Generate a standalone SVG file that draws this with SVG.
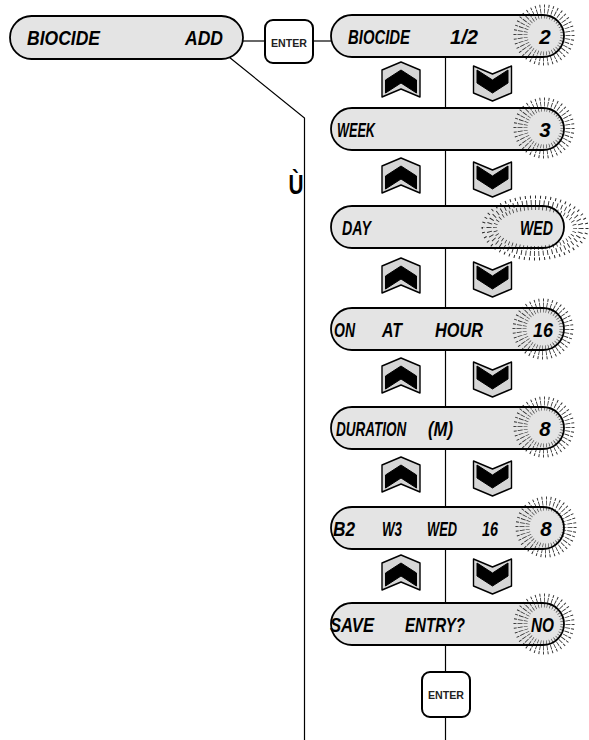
<svg xmlns="http://www.w3.org/2000/svg" width="589" height="740" viewBox="0 0 589 740">
<style>
.pill{fill:#e4e4e4;stroke:none}
.pillo{fill:none;stroke:#000;stroke-width:1.8}
.lcd{font-family:"Liberation Sans",Arial,sans-serif;font-weight:bold;font-style:italic;font-size:20.5px;fill:#000}
.btn{fill:#fff;stroke:#000;stroke-width:2}
.btxt{font-family:"Liberation Sans",Arial,sans-serif;font-weight:bold;font-size:11.5px;fill:#222}
.ln{stroke:#000;stroke-width:1.2;fill:none}
.rg{fill:none;stroke:#2a2a2a;stroke-dasharray:0.5 2}
.cho{fill:#d6d6d6;stroke:#000;stroke-width:1.4;stroke-linejoin:round}
.chi{fill:#000;stroke:#000;stroke-width:1;stroke-linejoin:round}
</style>
<defs>
<g id="up">
<polygon class="cho" points="-19,-10 0,-18 19,-10 19,17 0,9 -19,17"/>
<polygon class="chi" points="-15.5,0 0,-10 15.5,0 15.5,13 0,3 -15.5,13"/>
</g>
<g id="down">
<polygon class="cho" points="-19,-17 0,-9 19,-17 19,10 0,18 -19,10"/>
<polygon class="chi" points="-15.5,-13 0,-3 15.5,-13 15.5,0 0,10 -15.5,0"/>
</g>
<g id="ring">
<circle class="rg" r="18.5" stroke-width="4" pathLength="100"/>
<circle class="rg" r="24" stroke-width="5" pathLength="100"/>
<circle class="rg" r="29" stroke-width="3" pathLength="100"/>
</g>
</defs>

<g id="connectors">
<line class="ln" x1="243" y1="41" x2="265" y2="41"/>
<line class="ln" x1="313" y1="41" x2="332" y2="41"/>
<polyline class="ln" points="229,57 304.5,118 304.5,740"/>
<line class="ln" x1="445.5" y1="57" x2="445.5" y2="108"/>
<line class="ln" x1="445.5" y1="150" x2="445.5" y2="206"/>
<line class="ln" x1="445.5" y1="248" x2="445.5" y2="308"/>
<line class="ln" x1="445.5" y1="350" x2="445.5" y2="407"/>
<line class="ln" x1="445.5" y1="449" x2="445.5" y2="507"/>
<line class="ln" x1="445.5" y1="549" x2="445.5" y2="603"/>
<line class="ln" x1="445.5" y1="645" x2="445.5" y2="672"/>
<line class="ln" x1="445.5" y1="717" x2="445.5" y2="740"/>
</g>

<g id="biocide-add">
<rect class="pill" x="10" y="16" width="233" height="43" rx="21.5"/>
<rect class="pillo" x="10" y="16" width="233" height="43" rx="21.5"/>
<text class="lcd" x="27" y="45" textLength="73" lengthAdjust="spacingAndGlyphs">BIOCIDE</text>
<text class="lcd" x="185" y="45" textLength="38" lengthAdjust="spacingAndGlyphs">ADD</text>
</g>

<g id="enter1">
<rect class="btn" x="265" y="20" width="48" height="43" rx="8"/>
<text class="btxt" x="289" y="47" text-anchor="middle" textLength="36" lengthAdjust="spacingAndGlyphs">ENTER</text>
</g>

<g id="mark">
<text x="296" y="194" text-anchor="middle" font-family="Liberation Sans, Arial, sans-serif" font-weight="bold" font-size="28" textLength="15" lengthAdjust="spacingAndGlyphs">Ù</text>
</g>

<g id="row1">
<rect class="pill" x="331" y="15" width="233" height="42" rx="21"/>
<use href="#ring" x="544" y="35"/>
<rect class="pillo" x="331" y="15" width="233" height="42" rx="21"/>
<text class="lcd" x="348" y="44" textLength="62" lengthAdjust="spacingAndGlyphs">BIOCIDE</text>
<text class="lcd" x="450" y="44" textLength="28" lengthAdjust="spacingAndGlyphs">1/2</text>
<text class="lcd" x="545" y="44" text-anchor="middle">2</text>
</g>

<g id="arrows1"><use href="#up" x="401" y="80"/><use href="#down" x="492.5" y="83"/></g>

<g id="row2">
<rect class="pill" x="331" y="108" width="233" height="42" rx="21"/>
<use href="#ring" x="544" y="128"/>
<rect class="pillo" x="331" y="108" width="233" height="42" rx="21"/>
<text class="lcd" x="337" y="137" textLength="38" lengthAdjust="spacingAndGlyphs">WEEK</text>
<text class="lcd" x="545" y="137" text-anchor="middle">3</text>
</g>

<g id="arrows2"><use href="#up" x="401" y="176"/><use href="#down" x="492.5" y="179"/></g>

<g id="row3">
<rect class="pill" x="331" y="206" width="233" height="42" rx="21"/>
<g>
<ellipse class="rg" cx="535" cy="228" rx="40" ry="20" stroke-width="4" pathLength="130"/>
<ellipse class="rg" cx="535" cy="228" rx="46" ry="25.5" stroke-width="5" pathLength="130"/>
<ellipse class="rg" cx="535" cy="228" rx="52" ry="31" stroke-width="3" pathLength="130"/>
</g>
<rect class="pillo" x="331" y="206" width="233" height="42" rx="21"/>
<text class="lcd" x="342" y="235" textLength="29" lengthAdjust="spacingAndGlyphs">DAY</text>
<text class="lcd" x="520" y="235" textLength="33" lengthAdjust="spacingAndGlyphs">WED</text>
</g>

<g id="arrows3"><use href="#up" x="401" y="276"/><use href="#down" x="492.5" y="279"/></g>

<g id="row4">
<rect class="pill" x="331" y="308" width="233" height="42" rx="21"/>
<use href="#ring" x="543" y="329"/>
<rect class="pillo" x="331" y="308" width="233" height="42" rx="21"/>
<text class="lcd" x="334" y="337" textLength="21" lengthAdjust="spacingAndGlyphs">ON</text>
<text class="lcd" x="382" y="337" textLength="20" lengthAdjust="spacingAndGlyphs">AT</text>
<text class="lcd" x="435" y="337" textLength="48" lengthAdjust="spacingAndGlyphs">HOUR</text>
<text class="lcd" x="533" y="337" textLength="20" lengthAdjust="spacingAndGlyphs">16</text>
</g>

<g id="arrows4"><use href="#up" x="401" y="376"/><use href="#down" x="492.5" y="379"/></g>

<g id="row5">
<rect class="pill" x="331" y="407" width="233" height="42" rx="21"/>
<use href="#ring" x="544" y="427"/>
<rect class="pillo" x="331" y="407" width="233" height="42" rx="21"/>
<text class="lcd" transform="translate(336,436) scale(0.66,1)">DURATION</text>
<text class="lcd" x="428" y="436" textLength="25" lengthAdjust="spacingAndGlyphs">(M)</text>
<text class="lcd" x="545" y="436" text-anchor="middle">8</text>
</g>

<g id="arrows5"><use href="#up" x="401" y="475"/><use href="#down" x="492.5" y="478"/></g>

<g id="row6">
<rect class="pill" x="331" y="507" width="233" height="42" rx="21"/>
<use href="#ring" x="546" y="527"/>
<rect class="pillo" x="331" y="507" width="233" height="42" rx="21"/>
<text class="lcd" x="333" y="536" textLength="22" lengthAdjust="spacingAndGlyphs">B2</text>
<text class="lcd" x="382" y="536" textLength="20" lengthAdjust="spacingAndGlyphs">W3</text>
<text class="lcd" x="427" y="536" textLength="30" lengthAdjust="spacingAndGlyphs">WED</text>
<text class="lcd" x="482" y="536" textLength="16" lengthAdjust="spacingAndGlyphs">16</text>
<text class="lcd" x="546" y="536" text-anchor="middle">8</text>
</g>

<g id="arrows6"><use href="#up" x="401" y="573"/><use href="#down" x="492.5" y="576"/></g>

<g id="row7">
<rect class="pill" x="331" y="603" width="233" height="42" rx="21"/>
<use href="#ring" x="544" y="624"/>
<rect class="pillo" x="331" y="603" width="233" height="42" rx="21"/>
<text class="lcd" x="330" y="632" textLength="44" lengthAdjust="spacingAndGlyphs">SAVE</text>
<text class="lcd" x="405" y="632" textLength="60" lengthAdjust="spacingAndGlyphs">ENTRY?</text>
<text class="lcd" x="531" y="632" textLength="23" lengthAdjust="spacingAndGlyphs">NO</text>
</g>

<g id="enter2">
<rect class="btn" x="422" y="672" width="48" height="45" rx="8"/>
<text class="btxt" x="446" y="699" text-anchor="middle" textLength="36" lengthAdjust="spacingAndGlyphs">ENTER</text>
</g>
</svg>
